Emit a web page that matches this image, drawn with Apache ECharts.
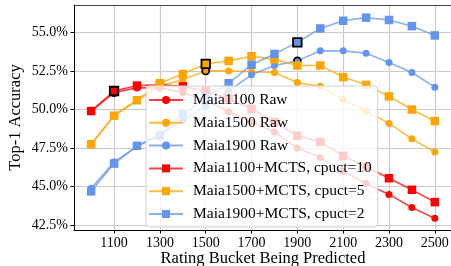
<!DOCTYPE html>
<html>
<head>
<meta charset="utf-8">
<script src="https://cdn.jsdelivr.net/npm/echarts@6/dist/echarts.min.js"></script>
<style>html,body{margin:0;padding:0;background:#fff}#c{width:451px;height:266px}</style>
</head>
<body>
<div id="c"></div>
<script>
const ratings = [1000,1100,1200,1300,1400,1500,1600,1700,1800,1900,2000,2100,2200,2300,2400,2500];
const maia1100Raw  = [49.9,51.1,51.4,51.4,51.1,50.6,49.85,49.2,48.55,47.5,46.9,46.0,45.2,44.5,43.65,42.95];
const maia1500Raw  = [47.75,49.6,50.6,51.5,51.95,52.5,52.5,52.45,52.4,51.75,51.5,50.65,49.9,49.1,48.1,47.25];
const maia1900Raw  = [44.9,46.6,47.6,48.4,49.3,50.2,51.2,52.25,52.85,53.15,53.8,53.8,53.65,53.05,52.4,51.45];
const maia1100MCTS = [49.9,51.2,51.55,51.6,51.5,51.2,50.7,50.05,49.2,48.3,47.9,47.0,46.3,45.55,44.8,44.0];
const maia1500MCTS = [47.75,49.6,50.6,51.7,52.3,52.95,53.15,53.45,53.25,52.85,52.85,52.1,51.6,50.85,50.0,49.25];
const maia1900MCTS = [44.7,46.5,47.65,48.3,49.7,50.75,51.7,52.9,53.6,54.35,55.25,55.75,55.95,55.8,55.4,54.8];
const seriesNames = ['Maia1100 Raw','Maia1500 Raw','Maia1900 Raw','Maia1100+MCTS, cpuct=10','Maia1500+MCTS, cpuct=5','Maia1900+MCTS, cpuct=2'];
const highlightBuckets = [1100,1500,1900];
const xTicks = [1100,1300,1500,1700,1900,2100,2300,2500];
const yTicks = [42.5,45.0,47.5,50.0,52.5,55.0];

const colors = ['#ff0000','#ffa500','#6495ed'];
const FONT = 'Liberation Serif';

function mk(name, vals, ci, sym, size) {
  const hl = highlightBuckets[ci];
  return {
    name: name, type: 'line', symbol: sym, symbolSize: size,
    color: colors[ci],
    lineStyle: {width: 1.6, opacity: 0.75, color: colors[ci]},
    itemStyle: {color: colors[ci]},
    emphasis: {disabled: true},
    animation: false,
    data: ratings.map((r, i) => r === hl
      ? {value: [r, vals[i]], itemStyle: {borderColor: '#000', borderWidth: 1.8}}
      : {value: [r, vals[i]]})
  };
}

const chart = echarts.init(document.getElementById('c'), null, {renderer: 'canvas'});
chart.setOption({
  animation: false,
  textStyle: {fontFamily: FONT},
  grid: {left: 74, top: 5, width: 378, height: 225, containLabel: false, outerBoundsMode: 'none'},
  xAxis: [{
    type: 'value', min: 925, max: 2575,
    name: 'Rating Bucket Being Predicted', nameLocation: 'middle', nameGap: 20, nameMoveOverlap: false,
    nameTextStyle: {fontFamily: FONT, fontSize: 16.5, color: '#000'},
    axisLine: {lineStyle: {color: '#000', width: 1}},
    axisTick: {show: true, length: 3.5, lineStyle: {color: '#000'}, customValues: xTicks},
    axisLabel: {fontFamily: FONT, fontSize: 14, color: '#000', margin: 6, customValues: xTicks, formatter: v => String(v)},
    splitLine: {show: true, lineStyle: {color: '#cbcbcb', width: 1.2}}
  }, {
    type: 'value', position: 'top', min: 925, max: 2575,
    axisLine: {show: true, lineStyle: {color: '#444', width: 1}},
    axisTick: {show: false}, axisLabel: {show: false}, splitLine: {show: false}
  }],
  yAxis: {
    type: 'value', min: 42.196, max: 56.77,
    name: 'Top-1 Accuracy', nameLocation: 'middle', nameGap: 50, nameMoveOverlap: false,
    nameTextStyle: {fontFamily: FONT, fontSize: 16.5, color: '#000'},
    axisLine: {show: true, lineStyle: {color: '#000', width: 1}},
    axisTick: {show: true, length: 3.5, lineStyle: {color: '#000'}, customValues: yTicks},
    axisLabel: {fontFamily: FONT, fontSize: 14, color: '#000', margin: 6, customValues: yTicks, formatter: v => v.toFixed(1) + '%'},
    splitLine: {show: true, lineStyle: {color: '#cbcbcb', width: 1.2}}
  },
  legend: {
    orient: 'vertical', left: 146, top: 86,
    itemWidth: 34, itemHeight: 10, itemGap: 6.8,
    padding: [6, 6, 5, 2],
    backgroundColor: 'rgba(255,255,255,0.8)',
    borderColor: '#d0d0d0', borderWidth: 1, borderRadius: 3,
    textStyle: {fontFamily: FONT, fontSize: 15.5, color: '#000', lineHeight: 15, padding: [0, 0, 0, 5]},
    data: seriesNames
  },
  series: [
    mk(seriesNames[0], maia1100Raw, 0, 'circle', 7),
    mk(seriesNames[1], maia1500Raw, 1, 'circle', 7),
    mk(seriesNames[2], maia1900Raw, 2, 'circle', 7),
    mk(seriesNames[3], maia1100MCTS, 0, 'rect', 8.5),
    mk(seriesNames[4], maia1500MCTS, 1, 'rect', 8.5),
    mk(seriesNames[5], maia1900MCTS, 2, 'rect', 8.5)
  ]
});
</script>
</body>
</html>
